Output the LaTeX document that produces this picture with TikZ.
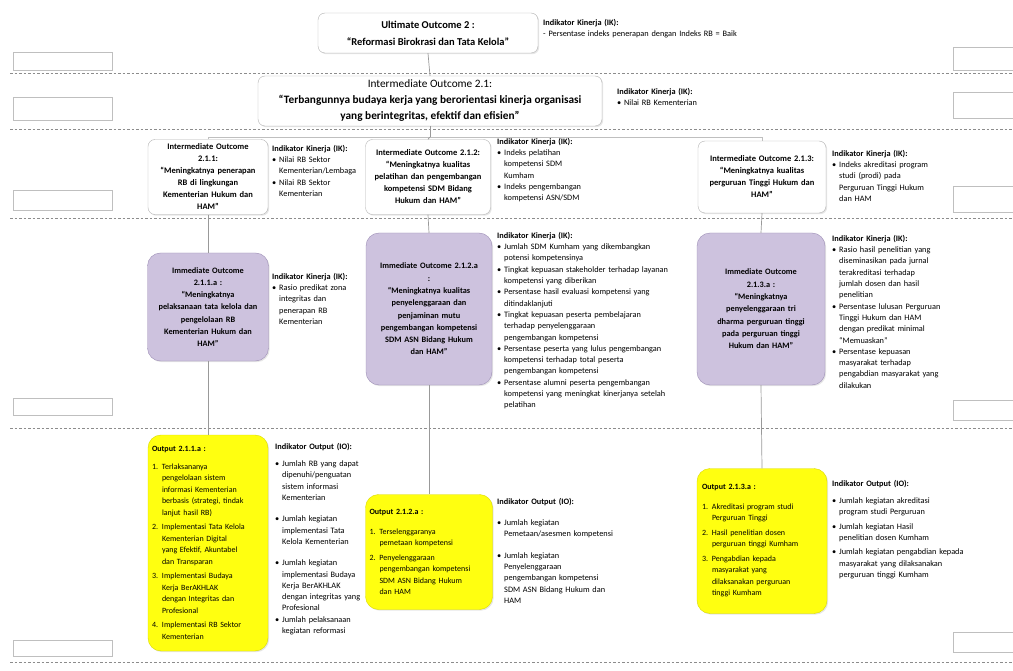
\documentclass[tikz,border=0pt]{standalone}
\usepackage{fontspec}
\setmainfont{Carlito}
\usetikzlibrary{shadows}

\newcommand{\bul}[1]{\par\hangindent=7pt\hangafter=1\noindent\makebox[7pt][l]{\textbullet}{\let\\\newline #1}\par}
\newcommand{\itm}[2]{\par\hangindent=10pt\hangafter=1\noindent\makebox[10pt][l]{#1}{\let\\\newline #2}\par}

\begin{document}
\begin{tikzpicture}[x=1pt,y=-1pt,
    outcomebox/.style={draw=black!30, fill=white, rounded corners=7pt, align=center,
      inner sep=2pt, font=\fontsize{8.5}{12}\selectfont\bfseries,
      drop shadow={opacity=0.2,shadow xshift=1.2pt,shadow yshift=-1.2pt}},
    immbox/.style={draw=lilacdark, fill=lilac, rounded corners=13pt, align=center,
      inner sep=2pt, font=\fontsize{8.3}{12.3}\selectfont\bfseries,
      drop shadow={opacity=0.2,shadow xshift=1.2pt,shadow yshift=-1.2pt}},
    outputbox/.style={draw=yellowdark, fill=yellowish, rounded corners=13pt, align=left,
      inner sep=2pt, font=\fontsize{8}{11.5}\selectfont,
      drop shadow={opacity=0.2,shadow xshift=1.2pt,shadow yshift=-1.2pt}},
    indik/.style={anchor=north west, align=left, inner sep=0pt,
      font=\fontsize{8.3}{11.3}\selectfont},
    link/.style={draw=black!40, line width=0.7pt},
    sepline/.style={draw=black!45, dash pattern=on 2.5pt off 2pt, line width=0.8pt},
    sidebox/.style={draw=black!25, fill=white, line width=0.6pt,
      drop shadow={opacity=0.15,shadow xshift=1pt,shadow yshift=-1pt}}]

    \definecolor{lilac}{HTML}{CDC2DE}
    \definecolor{lilacdark}{HTML}{9C8DB5}
    \definecolor{yellowish}{HTML}{FFFF10}
    \definecolor{yellowdark}{HTML}{D8D800}

    \useasboundingbox (0,0) rectangle (1013,671);

    % dashed separators
    \foreach \y in {73,129,218,428,662}
        \draw[sepline] (10,\y) -- (1013,\y);

    % empty side boxes
    \foreach \ya/\yb in {52/70,97/120,190/210,398/415,640/656}
        \draw[sidebox] (13,\ya) rectangle (112,\yb);
    \foreach \ya/\yb in {47/70,92/118,186/212,400/420,632/652}
        \draw[sidebox] (953,\ya) rectangle (1013,\yb);

    % ultimate outcome
    \node[outcomebox, minimum width=220pt, minimum height=40pt,
        font=\fontsize{10.5}{17}\selectfont\bfseries] (uo) at (428,33)
        {Ultimate Outcome 2 :\\“Reformasi Birokrasi dan Tata Kelola”};
    \node[indik, text width=260pt] (uoik) at (543,19)
        {\textbf{Indikator Kinerja (IK):}\\- Persentase indeks penerapan dengan Indeks RB = Baik};

    % intermediate outcome 2.1
    \node[outcomebox, minimum width=344pt, minimum height=50pt,
        font=\fontsize{11.3}{16}\selectfont\bfseries] (io21) at (430,101)
        {{\mdseries Intermediate Outcome 2.1:}\\
         “Terbangunnya budaya kerja yang berorientasi kinerja organisasi\\
         yang berintegritas, efektif dan efisien”};
    \node[indik, text width=150pt] (io21ik) at (617,88)
        {\textbf{Indikator Kinerja (IK):}\\\textbullet\ Nilai RB Kementerian};

    % intermediate outcomes 2.1.x
    \node[outcomebox, minimum width=120pt, minimum height=75pt, text width=115pt] (io211) at (208,177)
        {Intermediate Outcome\\2.1.1:\\“Meningkatnya penerapan\\RB di lingkungan\\Kementerian Hukum dan\\HAM”};
    \node[indik, text width=92pt] (io211ik) at (272,145)
        {\textbf{Indikator Kinerja (IK):}
         \bul{Nilai RB Sektor\\Kementerian/Lembaga}
         \bul{Nilai RB Sektor\\Kementerian}};

    \node[outcomebox, minimum width=125pt, minimum height=75pt, text width=121pt] (io212) at (428,177)
        {Intermediate Outcome 2.1.2:\\“Meningkatnya kualitas\\pelatihan dan pengembangan\\kompetensi SDM Bidang\\Hukum dan HAM”};
    \node[indik, text width=130pt] (io212ik) at (497,138)
        {\textbf{Indikator Kinerja (IK):}
         \bul{Indeks pelatihan\\kompetensi SDM\\Kumham}
         \bul{Indeks pengembangan\\kompetensi ASN/SDM}};

    \node[outcomebox, minimum width=128pt, minimum height=72pt, text width=124pt] (io213) at (762,177)
        {Intermediate Outcome 2.1.3:\\“Meningkatnya kualitas\\perguruan Tinggi Hukum dan\\HAM”};
    \node[indik, text width=115pt] (io213ik) at (832,150)
        {\textbf{Indikator Kinerja (IK):}
         \bul{Indeks akreditasi program\\studi (prodi) pada\\Perguruan Tinggi Hukum\\dan HAM}};

    % immediate outcomes
    \node[immbox, minimum width=121pt, minimum height=108pt, text width=117pt] (im211) at (208,307)
        {Immediate Outcome\\2.1.1.a :\\“Meningkatnya\\pelaksanaan tata kelola dan\\pengelolaan RB\\Kementerian Hukum dan\\HAM”};
    \node[indik, text width=92pt] (im211ik) at (272,273)
        {\textbf{Indikator Kinerja (IK):}
         \bul{Rasio predikat zona\\integritas dan\\penerapan RB\\Kementerian}};

    \node[immbox, minimum width=126pt, minimum height=152pt, text width=122pt] (im212) at (429,309)
        {Immediate Outcome 2.1.2.a\\:\\“Meningkatnya kualitas\\penyelenggaraan dan\\penjaminan mutu\\pengembangan kompetensi\\SDM ASN Bidang Hukum\\dan HAM”};
    \node[indik, text width=190pt] (im212ik) at (497,232)
        {\textbf{Indikator Kinerja (IK):}
         \bul{Jumlah SDM Kumham yang dikembangkan\\potensi kompetensinya}
         \bul{Tingkat kepuasan stakeholder terhadap layanan\\kompetensi yang diberikan}
         \bul{Persentase hasil evaluasi kompetensi yang\\ditindaklanjuti}
         \bul{Tingkat kepuasan peserta pembelajaran\\terhadap penyelenggaraan\\pengembangan kompetensi}
         \bul{Persentase peserta yang lulus pengembangan\\kompetensi terhadap total peserta\\pengembangan kompetensi}
         \bul{Persentase alumni peserta pengembangan\\kompetensi yang meningkat kinerjanya setelah\\pelatihan}};

    \node[immbox, minimum width=128pt, minimum height=152pt, text width=124pt] (im213) at (761,309)
        {Immediate Outcome\\2.1.3.a :\\“Meningkatnya\\penyelenggaraan tri\\dharma perguruan tinggi\\pada perguruan tinggi\\Hukum dan HAM”};
    \node[indik, text width=125pt] (im213ik) at (832,235)
        {\textbf{Indikator Kinerja (IK):}
         \bul{Rasio hasil penelitian yang\\diseminasikan pada jurnal\\terakreditasi terhadap\\jumlah dosen dan hasil\\penelitian}
         \bul{Persentase lulusan Perguruan\\Tinggi Hukum dan HAM\\dengan predikat minimal\\“Memuaskan”}
         \bul{Persentase kepuasan\\masyarakat terhadap\\pengabdian masyarakat yang\\dilakukan}};

    % outputs
    \node[outputbox, minimum width=120pt, minimum height=216pt, text width=112pt] (op211) at (208,543)
        {\textbf{Output 2.1.1.a :}\par\vspace{6pt}
         \itm{1.}{Terlaksananya\\pengelolaan sistem\\informasi Kementerian\\berbasis (strategi, tindak\\lanjut hasil RB)}\vspace{3pt}
         \itm{2.}{Implementasi Tata Kelola\\Kementerian Digital\\yang Efektif, Akuntabel\\dan Transparan}\vspace{3pt}
         \itm{3.}{Implementasi Budaya\\Kerja BerAKHLAK\\dengan Integritas dan\\Profesional}\vspace{3pt}
         \itm{4.}{Implementasi RB Sektor\\Kementerian}};
    \node[indik, text width=90pt] (op211io) at (275,443)
        {\textbf{Indikator Output (IO):}\par\vspace{6pt}
         \bul{Jumlah RB yang dapat\\dipenuhi/penguatan\\sistem informasi\\Kementerian}\vspace{10pt}
         \bul{Jumlah kegiatan\\implementasi Tata\\Kelola Kementerian}\vspace{10pt}
         \bul{Jumlah kegiatan\\implementasi Budaya\\Kerja BerAKHLAK\\dengan integritas yang\\Profesional}
         \bul{Jumlah pelaksanaan\\kegiatan reformasi}};

    \node[outputbox, minimum width=127pt, minimum height=115pt, text width=119pt] (op212) at (429,552)
        {\textbf{Output 2.1.2.a :}\par\vspace{8pt}
         \itm{1.}{Terselenggaranya\\pemetaan kompetensi}\vspace{3pt}
         \itm{2.}{Penyelenggaraan\\pengembangan kompetensi\\SDM ASN Bidang Hukum\\dan HAM}};
    \node[indik, text width=130pt] (op212io) at (497,498)
        {\textbf{Indikator Output (IO):}\par\vspace{10pt}
         \bul{Jumlah kegiatan\\Pemetaan/asesmen kompetensi}\vspace{10pt}
         \bul{Jumlah kegiatan\\Penyelenggaraan\\pengembangan kompetensi\\SDM ASN Bidang Hukum dan\\HAM}};

    \node[outputbox, minimum width=130pt, minimum height=145pt, text width=120pt] (op213) at (762,541)
        {\textbf{Output 2.1.3.a :}\par\vspace{8pt}
         \itm{1.}{Akreditasi program studi\\Perguruan Tinggi}\vspace{3pt}
         \itm{2.}{Hasil penelitian dosen\\perguruan tinggi Kumham}\vspace{3pt}
         \itm{3.}{Pengabdian kepada\\masyarakat yang\\dilaksanakan perguruan\\tinggi Kumham}};
    \node[indik, text width=150pt] (op213io) at (832,480)
        {\textbf{Indikator Output (IO):}\par\vspace{6pt}
         \bul{Jumlah kegiatan akreditasi\\program studi Perguruan}\vspace{3pt}
         \bul{Jumlah kegiatan Hasil\\penelitian dosen Kumham}\vspace{3pt}
         \bul{Jumlah kegiatan pengabdian kepada\\masyarakat yang dilaksanakan\\perguruan tinggi Kumham}};

    % connectors
    \coordinate (split) at (430,137);
    \draw[link] (uo.south) -- (io21.north);
    \draw[link] (io21.south) -- (split);
    \draw[link, draw=black!25] (split) -| (io211.north);
    \draw[link, draw=black!25] (split) -| (io213.north);
    \draw[link] (split) -- (io212.north);
    \foreach \a/\b in {io211/im211,io212/im212,io213/im213,im211/op211,im212/op212,im213/op213}
        \draw[link] (\a.south) -- (\b.north);

\end{tikzpicture}
\end{document}
